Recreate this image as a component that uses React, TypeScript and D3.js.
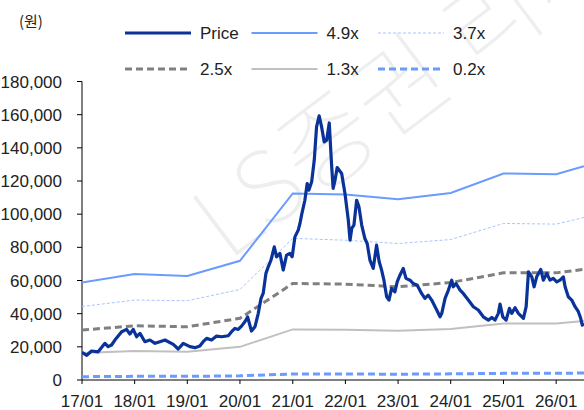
import React from "react";
import * as d3 from "d3";

const yearTicks = ["2017-01-01","2018-01-01","2019-01-01","2020-01-01","2021-01-01","2022-01-01","2023-01-01","2024-01-01","2025-01-01","2026-01-01"];
const yearLabels = ["17/01","18/01","19/01","20/01","21/01","22/01","23/01","24/01","25/01","26/01"];
const yTicks = [0,20000,40000,60000,80000,100000,120000,140000,160000,180000];

const bandDates = ["2017-01-01","2018-01-01","2019-01-01","2020-01-01","2021-01-01","2022-01-01","2023-01-01","2024-01-01","2025-01-01","2026-01-01","2026-07-13"];
const band49 = [58800,63900,62700,71900,112500,111900,109000,112800,124500,124100,128900];
const band37 = [44300,48200,47800,54600,85400,84300,82300,84700,94400,94000,98000];
const band25 = [30100,32700,32100,37200,58200,57800,56200,58800,64600,64600,66700];
const band13 = [16300,17500,17100,20000,30500,30300,29700,30800,34000,34000,35600];
const band02 = [2000,2200,2200,2500,3600,3600,3500,3700,4000,4000,4200];

const priceDates = [
"2017-01-01","2017-02-03","2017-03-08","2017-04-23","2017-06-09","2017-07-01","2017-07-25","2017-08-17","2017-10-03","2017-11-06","2017-11-29","2017-12-22",
"2018-01-15","2018-02-07","2018-03-13","2018-04-17","2018-05-22","2018-06-25","2018-07-30","2018-09-26","2018-10-30","2018-12-04",
"2019-01-19","2019-02-23","2019-03-29","2019-04-21","2019-05-15","2019-06-18","2019-07-23","2019-08-27","2019-10-12","2019-11-04","2019-11-27","2019-12-20",
"2020-01-12","2020-02-04","2020-02-23","2020-03-21","2020-04-14","2020-05-07","2020-05-26","2020-06-10","2020-06-29","2020-07-15","2020-08-03","2020-08-26","2020-09-11","2020-10-04","2020-10-27","2020-11-19","2020-12-12","2020-12-28",
"2021-01-16","2021-02-08","2021-02-20","2021-03-03","2021-03-26","2021-04-11","2021-04-23","2021-05-12","2021-05-30","2021-06-15","2021-07-03","2021-07-20","2021-08-07","2021-08-24","2021-09-11","2021-09-27","2021-10-08","2021-10-20","2021-11-05","2021-12-06","2021-12-29",
"2022-01-21","2022-02-02","2022-02-14","2022-03-01","2022-03-20","2022-04-05","2022-04-24","2022-05-16","2022-06-01","2022-06-20","2022-07-13","2022-08-05","2022-08-23","2022-09-09","2022-09-25","2022-10-14","2022-10-30","2022-11-17","2022-12-10","2022-12-26",
"2023-01-14","2023-02-06","2023-02-25","2023-03-25","2023-04-16","2023-05-14","2023-06-13","2023-07-06","2023-07-29","2023-08-22","2023-09-26","2023-10-19","2023-10-31","2023-11-23","2023-12-16",
"2024-01-08","2024-01-19","2024-02-07","2024-03-06","2024-03-28","2024-05-02","2024-06-06","2024-07-10","2024-08-14","2024-09-18","2024-10-12","2024-11-03","2024-11-26","2024-12-08","2024-12-27",
"2025-01-19","2025-02-11","2025-02-27","2025-03-22","2025-04-14","2025-05-19","2025-06-07","2025-06-23","2025-07-16","2025-08-01","2025-08-19","2025-09-16","2025-10-04","2025-10-28","2025-11-19","2025-12-12",
"2026-01-05","2026-01-28","2026-02-20","2026-03-04","2026-03-26","2026-04-19","2026-05-12","2026-06-04","2026-06-20","2026-07-01","2026-07-13"
];
const priceValues = [
16700,14900,17500,17000,22100,20100,21100,24100,29100,30500,27700,30500,
26100,28100,23100,24100,22100,23100,24100,21500,18700,22100,
20100,19500,20500,23100,25100,24100,26500,26100,26700,29100,31100,30500,
32500,35100,38000,29500,32100,40200,49200,52200,64300,68200,72300,80300,74300,76300,66300,75300,76300,74300,
86300,90400,94400,99400,108400,118500,114500,119500,132500,152600,159300,152600,143600,144600,155000,130000,115500,120000,128100,124500,112500,
96400,84300,91400,93400,108400,104400,93400,85300,82300,72300,67300,81300,71300,66300,60200,50200,48200,55200,53200,59200,
63200,67300,61300,60200,58200,57200,52200,49200,51200,48200,42200,38100,40200,49200,54200,
60200,56200,58200,54200,52200,48200,44200,42200,38100,36100,37700,36100,40200,45800,38100,
36100,43200,40200,43600,40200,37200,44200,65200,62200,56200,62200,66700,60200,64300,60200,61300,
59200,60200,62200,56200,50200,48200,44200,41200,37200,33100,34100
];

const legendItems = [
  { label: "Price", color: "#0a3399", width: 3, dash: "" },
  { label: "4.9x", color: "#6b9bff", width: 2, dash: "" },
  { label: "3.7x", color: "#a9c4ff", width: 1, dash: "3,2" },
  { label: "2.5x", color: "#808080", width: 3, dash: "7,4" },
  { label: "1.3x", color: "#c0c0c0", width: 2, dash: "" },
  { label: "0.2x", color: "#6b9bff", width: 3, dash: "7,4" },
];

const W = 584, H = 410;
const left = 82, right = 584, top = 81.5, bottom = 380;
const font = "'Liberation Sans Narrow', 'Arial Narrow', 'Liberation Sans', Arial, sans-serif";

export default function App() {
  const parse = d3.timeParse("%Y-%m-%d");
  const x = d3.scaleTime().domain([parse("2017-01-01")!, parse("2026-07-13")!]).range([left, right]);
  const y = d3.scaleLinear().domain([0, 180000]).range([bottom, top]);
  const line = d3.line<[Date, number]>().x(d => x(d[0])).y(d => y(d[1]));
  const bd = bandDates.map(s => parse(s)!);
  const mk = (vals: number[]) => line(vals.map((v, i) => [bd[i], v] as [Date, number])) || "";
  const pricePath = line(priceValues.map((v, i) => [parse(priceDates[i])!, v] as [Date, number])) || "";
  const bands = [
    { vals: band49, item: legendItems[1] },
    { vals: band37, item: legendItems[2] },
    { vals: band25, item: legendItems[3] },
    { vals: band13, item: legendItems[4] },
    { vals: band02, item: legendItems[5] },
  ];
  const fmt = d3.format(",");
  return (
    <svg width={W} height={H} style={{ position: "absolute", left: 0, top: 0, background: "#fff" }} fontFamily={font}>
      <defs>
        <clipPath id="plot"><rect x={left} y={0} width={right - left} height={bottom + 2} /></clipPath>
        <clipPath id="wm"><rect x={0} y={0} width={W} height={H} /></clipPath>
      </defs>
      {/* watermark */}
      <g fill="#eeeeee" fontFamily="'Noto Sans CJK KR', sans-serif" fontWeight={100} clipPath="url(#wm)">
        <text x={0} y={0} fontSize={100} transform="translate(228,262) rotate(-37)">LS증권 리서치</text>
      </g>
      <text x={19} y={27} fontSize={15} fontFamily="'Noto Sans CJK KR', 'Liberation Sans', sans-serif" fill="#222">(원)</text>
      {/* legend */}
      {legendItems.map((it, i) => {
        const col = i % 3, row = Math.floor(i / 3);
        const lx = 125 + col * 126.5, ly = row === 0 ? 33 : 69;
        return (
          <g key={it.label}>
            <line x1={lx} x2={lx + 66} y1={ly} y2={ly} stroke={it.color} strokeWidth={it.width} strokeDasharray={it.dash} />
            <text x={lx + 75} y={ly + 6} fontSize={17} fill="#222">{it.label}</text>
          </g>
        );
      })}
      {/* axes */}
      <line x1={left} x2={left} y1={top} y2={bottom} stroke="#000" strokeWidth={1} />
      <line x1={left} x2={right} y1={bottom} y2={bottom} stroke="#000" strokeWidth={1} />
      {yTicks.map(t => (
        <g key={t}>
          <line x1={left - 5} x2={left} y1={y(t)} y2={y(t)} stroke="#000" />
          <text x={62} y={y(t) + 6} fontSize={17} textAnchor="end" fill="#222">{fmt(t)}</text>
        </g>
      ))}
      {yearTicks.map((t, i) => (
        <g key={t}>
          <line x1={x(parse(t)!)} x2={x(parse(t)!)} y1={bottom} y2={bottom + 4} stroke="#000" />
          <text x={x(parse(t)!)} y={407} fontSize={17} textAnchor="middle" fill="#222">{yearLabels[i]}</text>
        </g>
      ))}
      <g clipPath="url(#plot)" fill="none">
        {bands.map(b => (
          <path key={b.item.label} d={mk(b.vals)} stroke={b.item.color} strokeWidth={b.item.width} strokeDasharray={b.item.dash} />
        ))}
        <path d={pricePath} stroke="#0a3399" strokeWidth={3.2} strokeLinejoin="round" />
      </g>
    </svg>
  );
}
